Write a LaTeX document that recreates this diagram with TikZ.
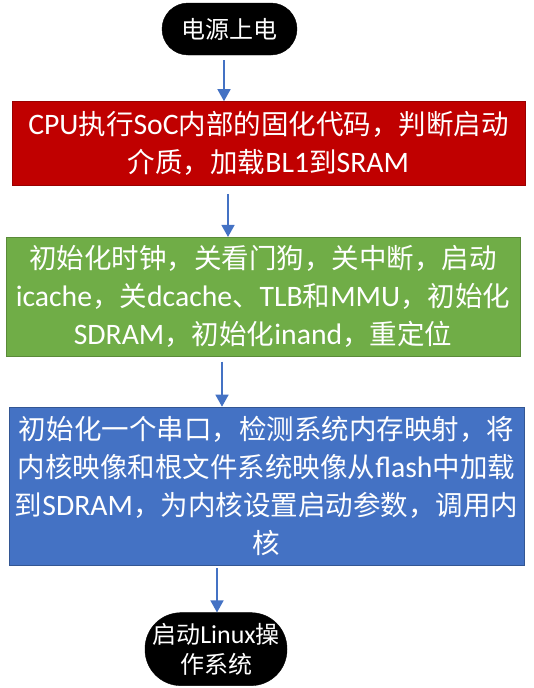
\documentclass[tikz,border=0pt]{standalone}
\usepackage{fontspec}
\setmainfont{Noto Sans CJK SC}
\newfontfamily\latinfont[Scale=1.08]{Carlito}
\newcommand{\en}[1]{{\latinfont #1}}
\usepackage{xcolor}
\usetikzlibrary{arrows.meta, positioning}

\definecolor{bootred}{HTML}{C00000}
\definecolor{bootgreen}{HTML}{70AD47}
\definecolor{bootblue}{HTML}{4472C4}

\begin{document}
\begin{tikzpicture}[
    x=1pt, y=-1pt,
    every node/.style={color=white, align=center, inner sep=2pt},
    term/.style={draw=black, fill=black, rectangle, rounded corners=26pt,
                 minimum width=135pt, minimum height=52pt,
                 font=\fontsize{24}{30}\selectfont},
    proc/.style={rectangle, line width=0.75pt, minimum width=513pt,
                 font=\fontsize{27.5}{38}\selectfont},
    arrow/.style={-{Triangle[length=12pt, width=13pt]}, color=bootblue,
                  line width=1.5pt}
]
\useasboundingbox (0,0) rectangle (533,688);

% =========================================================
% power on
% =========================================================
\node[term] (pwr) at (229.5, 29) {电源上电};

% =========================================================
% BL0 / BL1 / u-boot stages
% =========================================================
\node[proc, fill=bootred, draw=bootred!80!black, minimum height=84pt,
      below=46pt of pwr, xshift=39pt] (bl0)
    {\en{CPU}执行\en{SoC}内部的固化代码，判断启动\\介质，加载\en{BL1}到\en{SRAM}};

\node[proc, fill=bootgreen, draw=bootgreen!80!black, minimum height=119pt,
      minimum width=514pt, below=51pt of bl0, xshift=-5.5pt] (bl1)
    {初始化时钟，关看门狗，关中断，启动\\\en{icache}，关\en{dcache}、\en{TLB}和\en{MMU}，初始化\\\en{SDRAM}，初始化\en{inand}，重定位};

\node[proc, fill=bootblue, draw=bootblue!75!black, minimum height=158pt,
      minimum width=515pt, below=50pt of bl1, xshift=3.5pt] (uboot)
    {初始化一个串口，检测系统内存映射，将\\内核映像和根文件系统映像从\en{flash}中加载\\到\en{SDRAM}，为内核设置启动参数，调用内\\核};

% =========================================================
% kernel
% =========================================================
\node[term, rounded corners=36pt, minimum width=142pt, minimum height=73pt,
      below=47pt of uboot, xshift=-50.5pt] (linux)
    {启动\en{Linux}操\\作系统};

% =========================================================
% ARROWS
% =========================================================
\draw[arrow] ([xshift=-5.5pt, yshift=-5pt]pwr.south) -- ([xshift=-44.5pt]bl0.north);
\draw[arrow] ([xshift=-40.5pt, yshift=-8pt]bl0.south) -- ([xshift=-35pt]bl1.north);
\draw[arrow] ([xshift=-41pt, yshift=-5pt]bl1.south) -- ([xshift=-44.5pt]uboot.north);
\draw[arrow] ([xshift=-49.5pt, yshift=-3pt]uboot.south) -- ([xshift=1pt]linux.north);

\end{tikzpicture}
\end{document}
